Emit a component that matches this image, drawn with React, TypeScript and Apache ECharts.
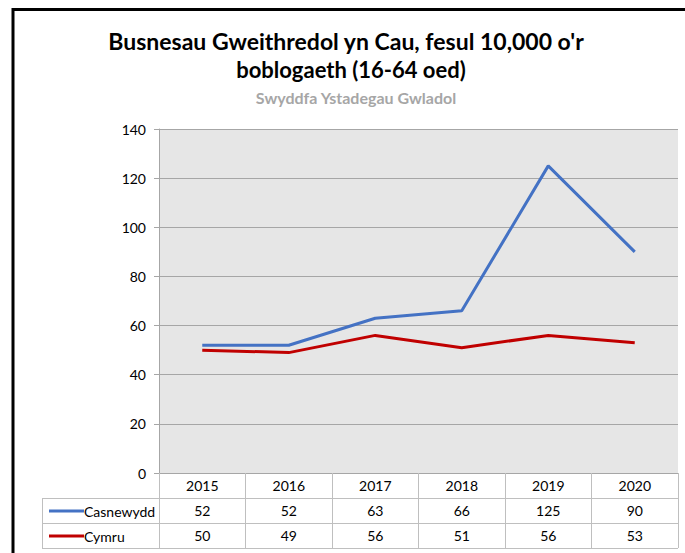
import React, { useEffect, useRef } from "react";
import * as echarts from "echarts";

const years = ["2015", "2016", "2017", "2018", "2019", "2020"];
const casnewydd = [52, 52, 63, 66, 125, 90];
const cymru = [50, 49, 56, 51, 56, 53];
const seriesNames = ["Casnewydd", "Cymru"];
const titleLines = ["Busnesau Gweithredol yn Cau, fesul 10,000 o'r", "boblogaeth (16-64 oed)"];
const subtitle = "Swyddfa Ystadegau Gwladol";

const FONT = "Lato, 'Open Sans', sans-serif";
const GRID_LEFT = 159;
const GRID_RIGHT_X = 678;
const GRID_TOP = 129;
const GRID_BOTTOM_Y = 473;
const ROW_H = 25;
const TABLE_LEFT = 42;
const TBL = "#bfbfbf";

export default function App() {
  const ref = useRef<HTMLDivElement>(null);
  useEffect(() => {
    document.body.style.margin = "0";
    const chart = echarts.init(ref.current!, null, { renderer: "svg" });
    const W = 685, H = 553;
    const rowLine1 = GRID_BOTTOM_Y + ROW_H;
    const rowLine2 = GRID_BOTTOM_Y + 2 * ROW_H;
    const rowLine3 = GRID_BOTTOM_Y + 3 * ROW_H;
    const valueAxis = (data: number[], offset: number) => ({
      type: "category",
      gridIndex: 0,
      position: "bottom",
      offset,
      data: data.map(String),
      boundaryGap: true,
      axisLine: { show: true, lineStyle: { color: TBL, width: 1 } },
      axisTick: { show: false },
      axisLabel: { color: "#000", fontSize: 14, fontFamily: FONT, margin: 5, interval: 0 },
      splitLine: { show: false },
    });
    chart.setOption({
      animation: false,
      backgroundColor: "#ffffff",
      grid: {
        left: GRID_LEFT,
        right: W - GRID_RIGHT_X,
        top: GRID_TOP,
        bottom: H - GRID_BOTTOM_Y,
        show: true,
        backgroundColor: "#e6e6e6",
        borderWidth: 0,
      },
      legend: {
        orient: "vertical",
        left: 44,
        top: GRID_BOTTOM_Y + ROW_H,
        icon: "rect",
        itemWidth: 35,
        itemHeight: 3,
        itemGap: 9,
        selectedMode: false,
        data: seriesNames,
        textStyle: { fontSize: 14, fontFamily: FONT, color: "#000", lineHeight: 16, padding: [0, 0, 0, -5] },
      },
      xAxis: [
        {
          type: "category",
          position: "bottom",
          data: years,
          boundaryGap: true,
          axisLine: { show: true, lineStyle: { color: "#a6a6a6", width: 1 } },
          axisTick: { show: true, length: 3 * ROW_H, lineStyle: { color: TBL } },
          axisLabel: { color: "#000", fontSize: 14, fontFamily: FONT, margin: 5, interval: 0 },
          splitLine: { show: false },
        },
        valueAxis(casnewydd, ROW_H),
        valueAxis(cymru, 2 * ROW_H),
      ],
      yAxis: {
        type: "value",
        min: 0,
        max: 140,
        interval: 20,
        axisLine: { show: true, lineStyle: { color: "#a6a6a6" } },
        axisTick: { show: true, length: 5, lineStyle: { color: "#a6a6a6" } },
        axisLabel: { color: "#000", fontSize: 14, fontFamily: FONT, margin: 13 },
        splitLine: { show: true, lineStyle: { color: "#a6a6a6", width: 1 } },
      },
      series: [
        {
          name: seriesNames[0],
          type: "line",
          data: casnewydd,
          symbol: "none",
          xAxisIndex: 0,
          color: "#4472C4",
          lineStyle: { color: "#4472C4", width: 3 },
        },
        {
          name: seriesNames[1],
          type: "line",
          data: cymru,
          symbol: "none",
          xAxisIndex: 0,
          color: "#C00000",
          lineStyle: { color: "#C00000", width: 3 },
        },
      ],
      graphic: [
        {
          type: "polyline",
          shape: { points: [[13, H + 5], [13, 9.5], [W + 5, 9.5]] },
          style: { stroke: "#000", lineWidth: 3, fill: null },
          silent: true,
        },
        {
          type: "text",
          x: 346,
          y: 41,
          style: { text: titleLines[0], fontSize: 23, fontWeight: "bold", fontFamily: FONT, fill: "#000", align: "center", verticalAlign: "middle" },
        },
        {
          type: "text",
          x: 351,
          y: 69,
          style: { text: titleLines[1], fontSize: 22, fontWeight: "bold", fontFamily: FONT, fill: "#000", align: "center", verticalAlign: "middle" },
        },
        {
          type: "text",
          x: 356,
          y: 97,
          style: { text: subtitle, fontSize: 16, fontWeight: "bold", fontFamily: FONT, fill: "#a6a6a6", align: "center", verticalAlign: "middle" },
        },
        {
          type: "line",
          shape: { x1: TABLE_LEFT, y1: rowLine1 + 0.5, x2: GRID_LEFT, y2: rowLine1 + 0.5 },
          style: { stroke: TBL, lineWidth: 1 },
          silent: true,
        },
        {
          type: "line",
          shape: { x1: TABLE_LEFT, y1: rowLine2 + 0.5, x2: GRID_LEFT, y2: rowLine2 + 0.5 },
          style: { stroke: TBL, lineWidth: 1 },
          silent: true,
        },
        {
          type: "line",
          shape: { x1: TABLE_LEFT, y1: rowLine3 + 0.5, x2: GRID_RIGHT_X, y2: rowLine3 + 0.5 },
          style: { stroke: TBL, lineWidth: 1 },
          silent: true,
        },
        {
          type: "line",
          shape: { x1: TABLE_LEFT + 0.5, y1: rowLine1, x2: TABLE_LEFT + 0.5, y2: rowLine3 },
          style: { stroke: TBL, lineWidth: 1 },
          silent: true,
        },
      ],
    });
    return () => chart.dispose();
  }, []);
  return <div ref={ref} style={{ width: 685, height: 553 }} />;
}
